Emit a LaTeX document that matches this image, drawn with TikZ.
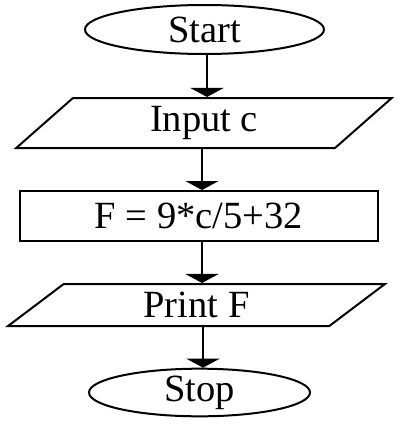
\documentclass[tikz,border=0pt]{standalone}
\usepackage{fontspec}
\setmainfont{Liberation Serif}
\usetikzlibrary{shapes.geometric, arrows.meta}

\begin{document}
\begin{tikzpicture}[
		every node/.style = {font = \fontsize{38.5}{46}\selectfont, line width = 2pt, inner sep = 0pt},
		terminal/.style = {draw, ellipse},
		io/.style = {draw, trapezium, trapezium stretches = true},
		process/.style = {draw, rectangle},
		flow/.style = {line width = 2.5pt, -{Triangle[width = 33pt, length = 9pt]}}
	]

	\useasboundingbox (0, 0) rectangle (408pt, -428pt);

	% Boxes of the flowchart

	\node [terminal, minimum width = 239pt, minimum height = 49pt] (start) at (204.5pt, -29.5pt) {Start};
	\node [io, trapezium left angle = 55, trapezium right angle = 125,
		minimum width = 376pt, minimum height = 50pt] (input) at (204pt, -123pt) {Input c};
	\node [process, minimum width = 358pt, minimum height = 50pt] (calc) at (199pt, -216pt) {F = 9*c/5+32};
	\node [io, trapezium left angle = 49.4, trapezium right angle = 130.6,
		minimum width = 377pt, minimum height = 42pt] (print) at (196.5pt, -305pt) {Print F};
	\node [terminal, minimum width = 221pt, minimum height = 45pt] (stop) at (199.5pt, -392.5pt) {Stop};

	% Arrows between the boxes

	\draw [flow] ([xshift = 2.5pt] start.south) -- ([xshift = 2.5pt] start.south |- input.north);
	\draw [flow] ([xshift = -2pt] input.south) -- ([xshift = -2pt] input.south |- calc.north);
	\draw [flow] ([xshift = 3pt] calc.south) -- ([xshift = 3pt] calc.south |- print.north);
	\draw [flow] ([xshift = 6.5pt] print.south) -- ([xshift = 6.5pt] print.south |- stop.north);

\end{tikzpicture}
\end{document}
